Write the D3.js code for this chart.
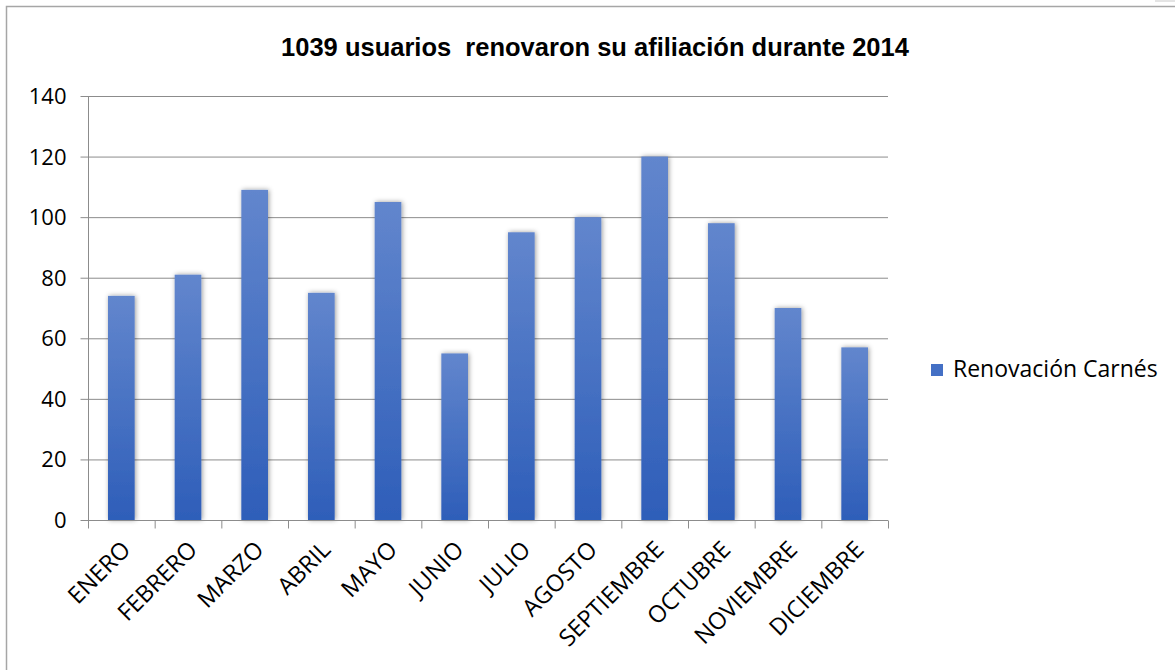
<!DOCTYPE html>
<html>
<head>
<meta charset="utf-8">
<script src="https://cdn.jsdelivr.net/npm/d3@7"></script>
<style>
  body { margin: 0; background: #fff; }
  svg { display: block; }
</style>
</head>
<body>
<svg id="chart" width="1175" height="670"></svg>
<script>
// datos
var meses = ['ENERO', 'FEBRERO', 'MARZO', 'ABRIL', 'MAYO', 'JUNIO', 'JULIO',
             'AGOSTO', 'SEPTIEMBRE', 'OCTUBRE', 'NOVIEMBRE', 'DICIEMBRE'];
var renovaciones = [74, 81, 109, 75, 105, 55, 95, 100, 120, 98, 70, 57];
var yTicks = [0, 20, 40, 60, 80, 100, 120, 140];
var titulo = '1039 usuarios  renovaron su afiliación durante 2014';
var serie = 'Renovación Carnés';

var svg = d3.select('#chart');

// marco del grafico
svg.append('path')
    .attr('d', 'M6.5,670 V6.5 H1175')
    .attr('fill', 'none')
    .attr('stroke', '#a6a6a6')
    .attr('stroke-width', 1.5);
svg.append('rect')
    .attr('x', 1155).attr('y', 0).attr('width', 20).attr('height', 2)
    .attr('fill', '#e4e4e4');

var x = d3.scaleBand().domain(meses).range([88, 888]).paddingInner(0.6).paddingOuter(0.3);
var band = d3.scaleBand().domain(meses).range([88, 888]);
var y = d3.scaleLinear().domain([0, 140]).range([520, 96]);

var defs = svg.append('defs');
var grad = defs.append('linearGradient')
    .attr('id', 'barGrad').attr('x1', 0).attr('y1', 0).attr('x2', 0).attr('y2', 1);
grad.append('stop').attr('offset', '0%').attr('stop-color', '#6286cd');
grad.append('stop').attr('offset', '100%').attr('stop-color', '#2e5eb9');

var sombra = defs.append('filter').attr('id', 'sombra')
    .attr('x', '-40%').attr('y', '-10%').attr('width', '180%').attr('height', '120%');
sombra.append('feDropShadow')
    .attr('dx', 1).attr('dy', 0).attr('stdDeviation', 2.5)
    .attr('flood-color', '#000').attr('flood-opacity', 0.4);

// lineas de division
svg.append('g').selectAll('line').data(yTicks.slice(1)).join('line')
    .attr('x1', 88).attr('x2', 888)
    .attr('y1', function (d) { return y(d) + 0.5; })
    .attr('y2', function (d) { return y(d) + 0.5; })
    .attr('stroke', '#8c8c8c').attr('stroke-width', 1);

// eje y
var yAxis = svg.append('g')
    .attr('transform', 'translate(88.5,0)')
    .call(d3.axisLeft(y).tickValues(yTicks).tickSize(8).tickPadding(14));
yAxis.select('.domain').attr('stroke', '#8c8c8c').attr('d', 'M0,96V520');
yAxis.selectAll('.tick line').attr('stroke', '#8c8c8c');
yAxis.selectAll('.tick text')
    .attr('fill', '#000')
    .style('font-family', '"Open Sans", sans-serif')
    .style('font-size', '22px')
    .attr('dy', '0.34em');

// barras
svg.append('g').selectAll('rect').data(renovaciones).join('rect')
    .attr('x', function (d, i) { return x(meses[i]); })
    .attr('y', function (d) { return y(d); })
    .attr('width', x.bandwidth())
    .attr('height', function (d) { return y(0) - y(d); })
    .attr('fill', 'url(#barGrad)')
    .attr('filter', 'url(#sombra)');

// eje x
var xAxis = svg.append('g').attr('transform', 'translate(0,520.5)');
xAxis.append('line').attr('x1', 88).attr('x2', 888).attr('stroke', '#8c8c8c');
xAxis.selectAll('line.tk').data(d3.range(meses.length + 1)).join('line')
    .attr('class', 'tk')
    .attr('x1', function (i) { return 88.5 + i * band.bandwidth(); })
    .attr('x2', function (i) { return 88.5 + i * band.bandwidth(); })
    .attr('y1', 0).attr('y2', 8)
    .attr('stroke', '#8c8c8c');
xAxis.selectAll('text').data(meses).join('text')
    .attr('transform', function (d) {
        var cx = band(d) + band.bandwidth() / 2 - 1;
        return 'translate(' + cx + ',19) rotate(-45)';
    })
    .attr('text-anchor', 'end')
    .attr('dy', '0.7em')
    .style('font-family', '"Open Sans", sans-serif')
    .style('font-size', '23.5px')
    .attr('fill', '#000')
    .text(function (d) { return d; });

// titulo
svg.append('text')
    .attr('x', 595).attr('y', 56)
    .attr('text-anchor', 'middle')
    .attr('xml:space', 'preserve')
    .style('white-space', 'pre')
    .style('font-family', '"Liberation Sans Narrow", "Liberation Sans", sans-serif')
    .style('font-size', '25.5px')
    .style('font-weight', 'bold')
    .attr('fill', '#000')
    .text(titulo);

// leyenda
var leyenda = svg.append('g').attr('transform', 'translate(931,364)');
leyenda.append('rect').attr('width', 12).attr('height', 12).attr('fill', '#4470c5');
leyenda.append('text')
    .attr('x', 22).attr('y', 13)
    .style('font-family', '"Open Sans", sans-serif')
    .style('font-size', '23px')
    .attr('fill', '#000')
    .text(serie);
</script>
</body>
</html>
